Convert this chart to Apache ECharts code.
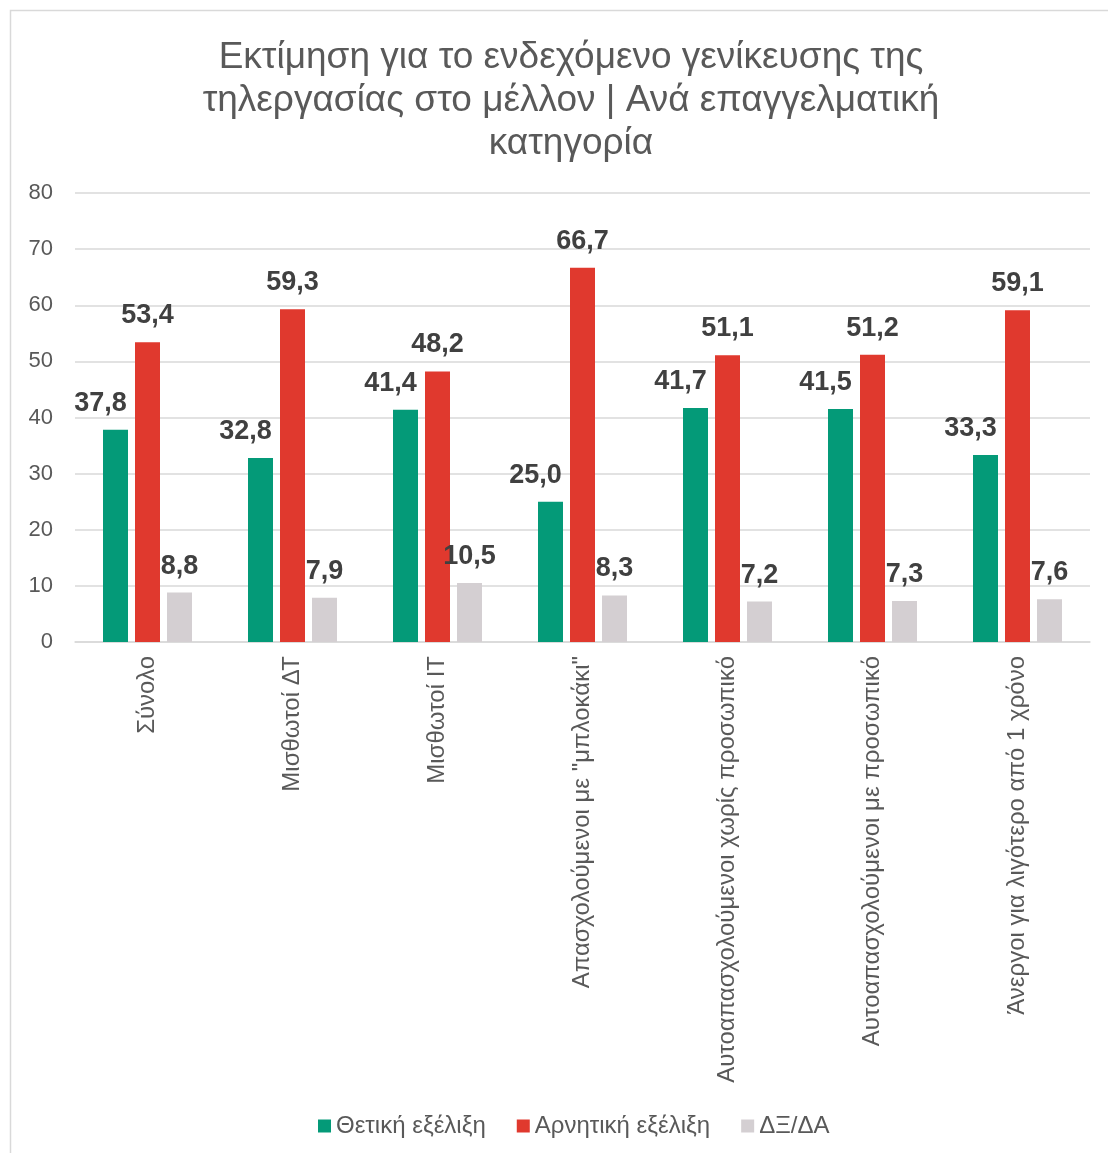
<!DOCTYPE html>
<html><head><meta charset="utf-8">
<script src="https://cdn.jsdelivr.net/npm/echarts@6/dist/echarts.min.js"></script>
<style>html,body{margin:0;padding:0;background:#fff}#c{width:1108px;height:1153px}</style>
</head><body><div id="c"></div>
<script>
const categories = ['Σύνολο','Μισθωτοί ΔΤ','Μισθωτοί ΙΤ','Απασχολούμενοι με "μπλοκάκι"','Αυτοαπασχολούμενοι χωρίς προσωπικό','Αυτοαπασχολούμενοι με προσωπικό','Άνεργοι για λιγότερο από 1 χρόνο'];
const seriesNames = ['Θετική εξέλιξη','Αρνητική εξέλιξη','ΔΞ/ΔΑ'];
const positive = [37.8, 32.8, 41.4, 25.0, 41.7, 41.5, 33.3];
const negative = [53.4, 59.3, 48.2, 66.7, 51.1, 51.2, 59.1];
const dkna = [8.8, 7.9, 10.5, 8.3, 7.2, 7.3, 7.6];
const colors = ['#049A78', '#E0392E', '#D4CFD2'];
const titleText = 'Εκτίμηση για το ενδεχόμενο γενίκευσης της\nτηλεργασίας στο μέλλον | Ανά επαγγελματική\nκατηγορία';

const font = 'Liberation Sans, Arial, sans-serif';
const fmt = p => p.value.toFixed(1).replace('.', ',');
function mk(name, data, color, offX) {
  return {
    name, type: 'bar', data, barWidth: 25, barGap: '28%', barCategoryGap: '38%',
    itemStyle: { color },
    label: { show: true, position: 'top', distance: 13, offset: [offX, 0], formatter: fmt,
      fontFamily: font, fontWeight: 'bold', fontSize: 27, color: '#404040' }
  };
}
const chart = echarts.init(document.getElementById('c'), null, { renderer: 'canvas' });
chart.setOption({
  animation: false,
  title: { text: titleText, left: 566, top: 31, textAlign: 'center',
    textStyle: { fontFamily: font, fontWeight: 'normal', fontSize: 37, color: '#595959', lineHeight: 43 } },
  graphic: [{ type: 'rect', shape: { x: 10.5, y: 10.5, width: 1120, height: 1170 },
    style: { fill: 'none', stroke: '#D9D9D9', lineWidth: 1.5 }, z: -1 }],
  legend: { bottom: 10, left: 313, itemWidth: 13, itemHeight: 13, itemGap: 31,
    icon: 'rect', textStyle: { fontFamily: font, fontSize: 24, color: '#595959' } },
  grid: { left: 75, right: 18, top: 193, bottom: 511, containLabel: false },
  xAxis: { type: 'category', data: categories,
    axisLine: { lineStyle: { color: '#D9D9D9', width: 1.5 } }, axisTick: { show: false },
    axisLabel: { rotate: 90, interval: 0, margin: 14, fontFamily: font, fontSize: 24, color: '#595959' } },
  yAxis: { type: 'value', min: 0, max: 80, interval: 10,
    axisLine: { show: false }, axisTick: { show: false },
    splitLine: { lineStyle: { color: '#D9D9D9', width: 1.5 } },
    axisLabel: { margin: 22, fontFamily: font, fontSize: 22, color: '#595959' } },
  series: [mk(seriesNames[0], positive, colors[0], -15), mk(seriesNames[1], negative, colors[1], 0), mk(seriesNames[2], dkna, colors[2], 0)]
});
</script></body></html>
